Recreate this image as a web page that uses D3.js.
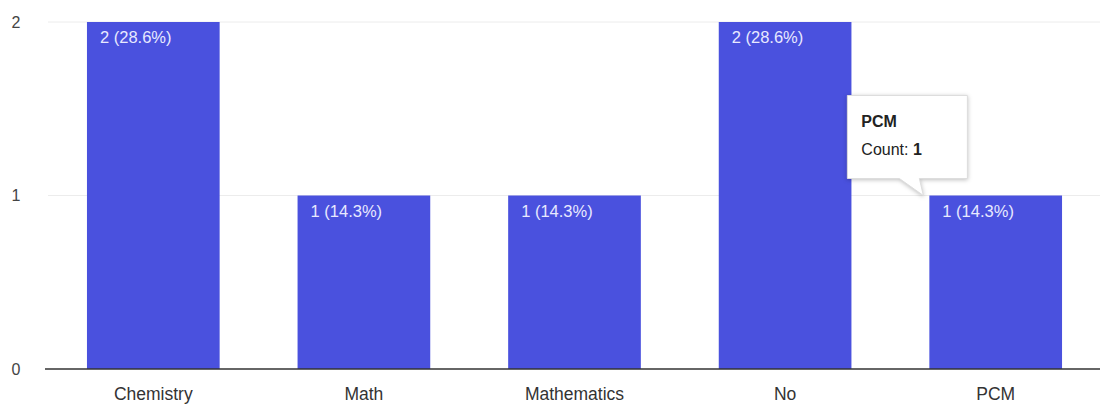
<!DOCTYPE html>
<html>
<head>
<meta charset="utf-8">
<script src="https://cdn.jsdelivr.net/npm/d3@7"></script>
<style>
  body { margin: 0; background: #fff; }
  svg { display: block; font-family: Arial, "Liberation Sans", sans-serif; }
</style>
</head>
<body>
<div id="chart"></div>
<script>
const categories = ['Chemistry', 'Math', 'Mathematics', 'No', 'PCM'];
const counts = [2, 1, 1, 2, 1];
const percents = ['28.6%', '14.3%', '14.3%', '28.6%', '14.3%'];
const yTicks = [0, 1, 2];
const tooltip = {name: 'PCM', label: 'Count: ', value: 1};

const width = 1100;
const height = 413;
const margin = {top: 22, right: -1, bottom: 44, left: 48};

const svg = d3.select('#chart').append('svg')
    .attr('width', width)
    .attr('height', height);

const x = d3.scaleBand()
    .domain(categories)
    .range([margin.left, width - margin.right])
    .paddingInner(0.37)
    .paddingOuter(0.185);

const y = d3.scaleLinear()
    .domain([0, 2])
    .range([height - margin.bottom, margin.top]);

// grid lines
svg.append('g')
    .selectAll('line')
    .data(yTicks.filter((d) => d > 0))
    .enter()
  .append('line')
    .attr('x1', margin.left)
    .attr('x2', width)
    .attr('y1', (d) => y(d))
    .attr('y2', (d) => y(d))
    .style('stroke', '#ececec')
    .style('stroke-width', 1);

// y labels
svg.append('g')
    .selectAll('text')
    .data(yTicks)
    .enter()
  .append('text')
    .attr('x', 16)
    .attr('y', (d) => y(d))
    .attr('dy', '0.35em')
    .attr('text-anchor', 'middle')
    .style('font-size', '16px')
    .style('fill', '#444')
    .text((d) => d);

const rows = categories.map((c, i) => ({name: c, count: counts[i], pct: percents[i]}));

svg.append('g')
    .selectAll('rect')
    .data(rows)
    .enter()
  .append('rect')
    .attr('x', (d) => x(d.name))
    .attr('y', (d) => y(d.count))
    .attr('width', x.bandwidth())
    .attr('height', (d) => y(0) - y(d.count))
    .style('fill', '#4a51de');

svg.append('g')
    .selectAll('text')
    .data(rows)
    .enter()
  .append('text')
    .attr('x', (d) => x(d.name) + 13)
    .attr('y', (d) => y(d.count) + 21)
    .style('font-size', '16.5px')
    .style('fill', '#e8e9ff')
    .text((d) => d.count + ' (' + d.pct + ')');

// baseline
svg.append('line')
    .attr('x1', margin.left - 3)
    .attr('x2', width)
    .attr('y1', y(0))
    .attr('y2', y(0))
    .style('stroke', '#333')
    .style('stroke-width', 1.5);

const xAxis = svg.append('g')
    .attr('transform', 'translate(0,' + y(0) + ')')
    .call(d3.axisBottom(x).tickSize(0).tickPadding(19));
xAxis.select('.domain').remove();
xAxis.selectAll('text')
    .style('font-family', 'Arial, "Liberation Sans", sans-serif')
    .style('font-size', '17.5px')
    .style('fill', '#333');

// tooltip over PCM bar
const tipX = x(tooltip.name) - 82;
const tipY = y(tooltip.value) - 100;
const tip = svg.append('g')
    .attr('transform', 'translate(' + tipX + ',' + tipY + ')');

tip.append('path')
    .attr('d', 'M0,0 H120 V83 H72 L76,100 L52,83 H0 Z')
    .style('fill', '#fff')
    .style('stroke', '#ddd')
    .style('stroke-width', 1)
    .style('filter', 'drop-shadow(0px 1px 2px rgba(0,0,0,0.25))');

tip.append('text')
    .attr('x', 14)
    .attr('y', 31)
    .style('font-size', '16px')
    .style('font-weight', 'bold')
    .style('fill', '#222')
    .text(tooltip.name);

const line2 = tip.append('text')
    .attr('x', 14)
    .attr('y', 59)
    .style('font-size', '16px')
    .style('fill', '#222');
line2.append('tspan').text(tooltip.label);
line2.append('tspan').style('font-weight', 'bold').text(tooltip.value);
</script>
</body>
</html>
